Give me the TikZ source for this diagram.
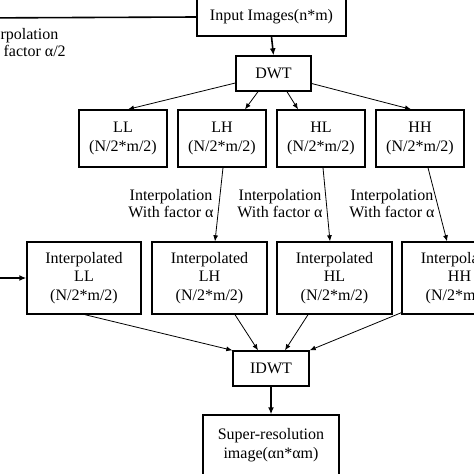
\documentclass[tikz,border=0pt]{standalone}
\usepackage{fontspec}
\setmainfont{Liberation Serif}
\usetikzlibrary{arrows.meta}
\begin{document}
\begin{tikzpicture}[x=1pt,y=-1pt,
  box/.style={draw,line width=1.4pt,inner sep=0pt,align=center,font=\fontsize{16}{18.5}\selectfont},
  lbl/.style={align=center,font=\fontsize{16}{17}\selectfont,inner sep=0pt},
  conn/.style={line width=0.8pt,-{Latex[length=6pt,width=5pt]}},
  thick conn/.style={line width=1.6pt,-{Latex[length=7pt,width=6pt]}}]
\useasboundingbox (0,0) rectangle (474,474);
\clip (0,0) rectangle (474,474);
\node[box,minimum width=149pt,minimum height=38pt] (inp) at (271.5,17) {Input Images(n*m)};
\node[box,minimum width=75pt,minimum height=35pt] (dwt) at (273.5,73.5) {DWT};
\node[box,minimum width=88pt,minimum height=57pt] (ll) at (123,138.5) {LL\\(N/2*m/2)};
\node[box,minimum width=88pt,minimum height=57pt] (lh) at (222,138.5) {LH\\(N/2*m/2)};
\node[box,minimum width=88pt,minimum height=57pt] (hl) at (321,138.5) {HL\\(N/2*m/2)};
\node[box,minimum width=88pt,minimum height=57pt] (hh) at (420,138.5) {HH\\(N/2*m/2)};
\node[box,minimum width=114pt,minimum height=72pt] (ill) at (84,278) {Interpolated\\LL\\(N/2*m/2)};
\node[box,minimum width=115pt,minimum height=72pt] (ilh) at (209.5,278) {Interpolated\\LH\\(N/2*m/2)};
\node[box,minimum width=115pt,minimum height=72pt] (ihl) at (334.5,278) {Interpolated\\HL\\(N/2*m/2)};
\node[box,minimum width=115pt,minimum height=72pt] (ihh) at (459.5,278) {Interpolated\\HH\\(N/2*m/2)};
\node[box,minimum width=76pt,minimum height=35pt] (idwt) at (271,368.5) {IDWT};
\node[box,minimum width=136pt,minimum height=60pt] (sr) at (271,445) {Super-resolution\\image(αn*αm)};
\node[lbl] (l0) at (17,43) {Interpolation\\With factor α/2};
\node[lbl] (l1) at (171,204) {Interpolation\\With factor α};
\node[lbl] (l2) at (280,204) {Interpolation\\With factor α};
\node[lbl] (l3) at (392,204) {Interpolation\\With factor α};
\coordinate (leftin) at (-30,18);
\coordinate (leftll) at (-30,278);
\draw[line width=1.6pt] (inp.west) -- (leftin);
\draw[thick conn] (leftll) -- (ill.west);
\draw[thick conn] (inp.south) -- (dwt.north);
\draw[conn] ([yshift=-9.5pt]dwt.west) -- ([xshift=5pt]ll.north);
\draw[conn] ([xshift=-15.5pt]dwt.south) -- ([xshift=23pt]lh.north);
\draw[conn] ([xshift=13.5pt]dwt.south) -- ([xshift=-23pt]hl.north);
\draw[conn] ([yshift=-10pt]dwt.east) -- ([xshift=-9pt]hh.north);
\draw[conn] ([xshift=1pt]lh.south) -- ([xshift=5.5pt]ilh.north);
\draw[conn] ([xshift=2pt]hl.south) -- ([xshift=-4.5pt]ihl.north);
\draw[conn] ([xshift=8pt]hh.south) -- ([xshift=-12.5pt]ihh.north);
\draw[conn] ([xshift=1pt]ill.south) -- (idwt.north west);
\draw[conn] ([xshift=25.5pt]ilh.south) -- ([xshift=-13pt]idwt.north);
\draw[conn] ([xshift=-26.5pt]ihl.south) -- ([xshift=14pt]idwt.north);
\draw[conn] ([yshift=2pt]ihh.south west) -- (idwt.north east);
\draw[thick conn] (idwt.south) -- (sr.north);
\end{tikzpicture}
\end{document}
